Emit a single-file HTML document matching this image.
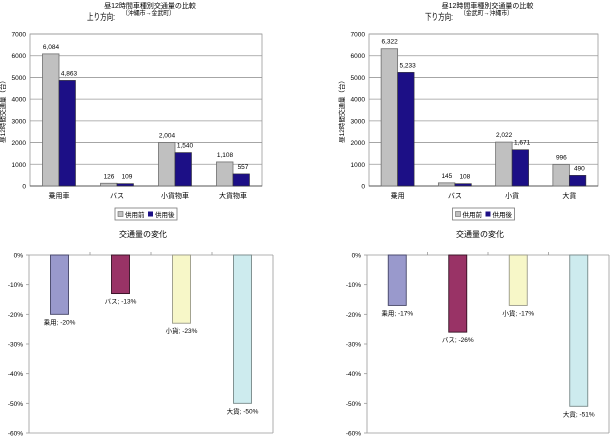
<!DOCTYPE html>
<html><head><meta charset="utf-8"><style>
html,body{margin:0;padding:0;background:#fff;}
svg{display:block;font-family:"Liberation Sans","Noto Sans CJK JP",sans-serif;}
</style></head><body>
<svg id="s" width="611" height="439" viewBox="0 0 611 439"></svg>
<script>
// ---- data ----
const upCats = ["乗用車","バス","小貨物車","大貨物車"];
const upBefore = [6084,126,2004,1108];
const upAfter = [4863,109,1540,557];
const upBeforeLbl = ["6,084","126","2,004","1,108"];
const upAfterLbl = ["4,863","109","1,540","557"];
const downCats = ["乗用","バス","小貨","大貨"];
const downBefore = [6322,145,2022,996];
const downAfter = [5233,108,1671,490];
const downBeforeLbl = ["6,322","145","2,022","996"];
const downAfterLbl = ["5,233","108","1,671","490"];
const yTicks = [0,1000,2000,3000,4000,5000,6000,7000];
const chgCats = ["乗用","バス","小貨","大貨"];
const upChange = [-20,-13,-23,-50];
const downChange = [-17,-26,-17,-51];
const pctTicks = [0,-10,-20,-30,-40,-50,-60];

const S = document.getElementById('s');
const NS = "http://www.w3.org/2000/svg";
function mk(tag, attrs, parent){
  const e = document.createElementNS(NS, tag);
  for (const k in attrs) e.setAttribute(k, attrs[k]);
  (parent||S).appendChild(e);
  return e;
}
function txt(x,y,s,size,anchor,parent){
  const t = mk('text',{x:x,y:y,'font-size':size,'text-anchor':anchor||'middle',fill:'#000'},parent);
  t.textContent = s;
  return t;
}

function barChart(name, x0, x1, y0, y1, cats, before, after, bl, al, title2, title3, tx, rx){
  const g = mk('g',{});
  
  
  const ys = v => y1 - (v/7000)*(y1-y0);
  const cw = (x1-x0)/cats.length;
  const tc = txt((x0+x1)/2+4, 8, "昼12時間車種別交通量の比較", 7, 'middle', g);
  
  
  const d1 = txt(tx, 20, title2, 9, 'start', g);
  d1.setAttribute('textLength', 28);
  d1.setAttribute('lengthAdjust', 'spacingAndGlyphs');
  
  
  const d2 = txt(rx, 15, title3, 6.5, 'start', g);
  d2.setAttribute('textLength', 53);
  d2.setAttribute('lengthAdjust', 'spacingAndGlyphs');
  
  
  yTicks.forEach(v=>{
    const y = ys(v);
    if (v>0) mk('line',{x1:x0,x2:x1,y1:y,y2:y,stroke:'#999','stroke-width':0.8},g);
    const t = txt(x0-4, y+2.5, String(v), 6.5, 'end', g);
    
    
  });
  mk('rect',{x:x0,y:y0,width:x1-x0,height:y1-y0,fill:'none',stroke:'#999','stroke-width':0.8},g);
  mk('line',{x1:x0,x2:x1,y1:y1,y2:y1,stroke:'#555','stroke-width':1},g);
  const yt = txt(0,0,"昼12時間交通量（台）",6.5,'middle',g);
  yt.setAttribute('transform',`translate(${x0-25},${(y0+y1)/2}) rotate(-90)`);
  
  
  cats.forEach((c,i)=>{
    const cx = x0 + cw*(i+0.5);
    const r1 = mk('rect',{x:cx-16.5,y:ys(before[i]),width:16.5,height:y1-ys(before[i]),fill:'#c0c0c0',stroke:'#6e6e6e','stroke-width':0.8},g);
    
    
    const r2 = mk('rect',{x:cx,y:ys(after[i]),width:16.5,height:y1-ys(after[i]),fill:'#1c0f86',stroke:'#333','stroke-width':0.6},g);
    
    
    const l1 = txt(cx-8, ys(before[i])-5, bl[i], 6.5, 'middle', g);
    
    
    const l2 = txt(cx+10, ys(after[i])-5, al[i], 6.5, 'middle', g);
    
    
    const cl = txt(cx, y1+12, c, 7, 'middle', g);
    
    
  });
  const lx = (x0+x1)/2 - 31;
  const lg = mk('g',{},g);
  
  
  mk('rect',{x:lx,y:208,width:62,height:12,fill:'#fff',stroke:'#777','stroke-width':0.8},lg);
  mk('rect',{x:lx+3,y:211.5,width:5,height:5,fill:'#c0c0c0',stroke:'#666','stroke-width':0.6},lg);
  const e1 = txt(lx+10,217,"供用前",6.5,'start',lg);
  
  
  mk('rect',{x:lx+33,y:211.5,width:5,height:5,fill:'#1c0f86'},lg);
  const e2 = txt(lx+40,217,"供用後",6.5,'start',lg);
  
  
}

const chgColors = ['#9999cc','#993366','#f7f7c8','#cdebee'];
const chgStroke = ['#444466','#331122','#999988','#778888'];
function changeChart(name, x0, x1, y0, y1, vals){
  const g = mk('g',{});
  
  
  const ys = v => y0 + (-v/60)*(y1-y0);
  const cw = (x1-x0)/vals.length;
  const t = txt((x0+x1)/2-8, 237, "交通量の変化", 8, 'middle', g);
  
  
  mk('line',{x1:x0,x2:x0,y1:y0,y2:y1,stroke:'#999','stroke-width':0.8},g);
  mk('line',{x1:x1,x2:x1,y1:y0,y2:y1,stroke:'#999','stroke-width':0.8},g);
  mk('line',{x1:x0,x2:x1,y1:y1,y2:y1,stroke:'#999','stroke-width':0.8},g);
  mk('line',{x1:x0,x2:x1,y1:y0,y2:y0,stroke:'#999','stroke-width':0.8},g);
  pctTicks.forEach(v=>{
    const y = ys(v);
    mk('line',{x1:x0-3,x2:x0,y1:y,y2:y,stroke:'#999','stroke-width':0.8},g);
    const tl = txt(x0-6, y+2.5, v+"%", 6.5, 'end', g);
    
    
  });
  for (let i=1;i<vals.length;i++){
    mk('line',{x1:x0+cw*i,x2:x0+cw*i,y1:y0-3,y2:y0,stroke:'#999','stroke-width':0.8},g);
  }
  vals.forEach((v,i)=>{
    const cx = x0 + cw*(i+0.5);
    const r = mk('rect',{x:cx-9,y:y0,width:18,height:ys(v)-y0,fill:chgColors[i],stroke:chgStroke[i],'stroke-width':0.9},g);
    
    
    const l = txt(cx, ys(v)+10, chgCats[i]+"; "+v+"%", 6.5, 'middle', g);
    
    
  });
}

barChart('up-volume-chart', 30, 262, 34, 186, upCats, upBefore, upAfter, upBeforeLbl, upAfterLbl, "上り方向:", "（沖縄市→金武町）", 87, 122);
barChart('down-volume-chart', 369, 598, 34, 186, downCats, downBefore, downAfter, downBeforeLbl, downAfterLbl, "下り方向:", "（金武町→沖縄市）", 425, 460);
changeChart('up-change-chart', 29, 273, 255, 433, upChange);
changeChart('down-change-chart', 367, 609, 255, 433, downChange);
</script>
</body></html>
